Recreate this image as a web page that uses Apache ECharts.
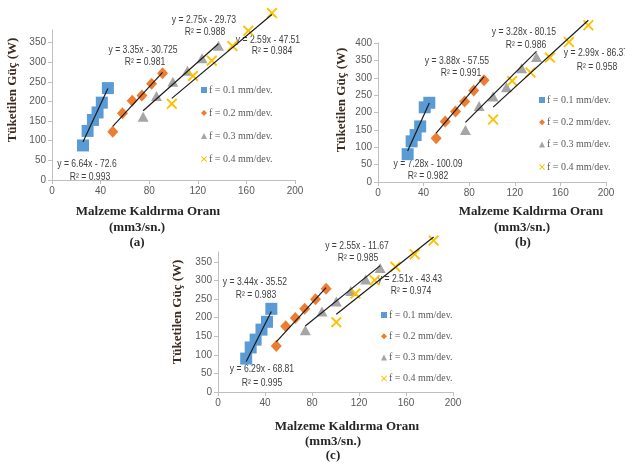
<!DOCTYPE html>
<html><head><meta charset="utf-8">
<script src="https://cdn.jsdelivr.net/npm/echarts@6/dist/echarts.min.js"></script>
<style>html,body{margin:0;padding:0;background:#fff}#c{width:625px;height:467px}</style>
</head><body><div id="c"></div>
<script>
// ---- Data ----
var seriesLabels = ['f = 0.1 mm/dev.', 'f = 0.2 mm/dev.', 'f = 0.3 mm/dev.', 'f = 0.4 mm/dev.'];
var xTicks = [0, 40, 80, 120, 160, 200];

// Panel (a)
var aX1 = [25.5, 29.3, 33.7, 37.5, 41, 46];
var aY1 = [88, 125, 153, 172, 197, 234];
var aX2 = [50, 58, 66, 74, 82, 91];
var aY2 = [123, 170, 202, 215, 245, 272];
var aX3 = [75, 86, 99.5, 111.5, 123.5, 137];
var aY3 = [161, 214, 250, 278, 310, 342];
var aX4 = [98.6, 116, 131.5, 148.5, 161.6, 181];
var aY4 = [194, 265, 304, 341, 380, 425];
var aFits = [[6.64, -72.6], [3.35, -30.725], [2.75, -29.73], [2.59, -47.51]];
var aEq = ['y = 6.64x - 72.6', 'y = 3.35x - 30.725', 'y = 2.75x - 29.73', 'y = 2.59x - 47.51'];
var aR2 = ['R² = 0.993', 'R² = 0.981', 'R² = 0.988', 'R² = 0.984'];

// Panel (b)
var bX1 = [26, 29.5, 33, 37, 41, 45];
var bY1 = [80, 117, 135, 160, 215, 228];
var bX2 = [51, 59, 68, 76, 84, 93];
var bY2 = [126, 174, 203, 232, 263, 293];
var bX3 = [76.7, 88.7, 101, 112.7, 126, 139];
var bY3 = [150, 219, 246, 273, 327, 360];
var bX4 = [101, 117.7, 133.8, 150.8, 167.5, 184.5];
var bY4 = [180, 291, 315, 358, 403, 451];
var bFits = [[7.28, -100.09], [3.88, -57.55], [3.28, -80.15], [2.99, -86.37]];
var bEq = ['y = 7.28x - 100.09', 'y = 3.88x - 57.55', 'y = 3.28x - 80.15', 'y = 2.99x - 86.37'];
var bR2 = ['R² = 0.982', 'R² = 0.991', 'R² = 0.986', 'R² = 0.958'];

// Panel (c)
var cX1 = [24, 27.8, 32, 37, 41.7, 45.4];
var cY1 = [90, 120, 141, 168, 189, 224];
var cX2 = [49.6, 57.6, 65.8, 73.8, 83, 92];
var cY2 = [124, 177, 199, 224, 250, 278];
var cX3 = [74.3, 88.5, 100.7, 113, 125.7, 138];
var cY3 = [166, 217, 244, 272, 303, 334];
var cX4 = [100.7, 117, 133.3, 151, 167.4, 183.5];
var cY4 = [188, 265, 301, 337, 371, 408];
var cFits = [[6.29, -68.81], [3.44, -35.52], [2.55, -11.67], [2.51, -43.43]];
var cEq = ['y = 6.29x - 68.81', 'y = 3.44x - 35.52', 'y = 2.55x - 11.67', 'y = 2.51x - 43.43'];
var cR2 = ['R² = 0.995', 'R² = 0.983', 'R² = 0.985', 'R² = 0.974'];

// ---- Styling ----
var colors = ['#5b9bd5', '#ed7d31', '#a5a5a5', '#ffc000'];
var xPath = 'path://M0,1.2 L1.2,0 L5,3.8 L8.8,0 L10,1.2 L6.2,5 L10,8.8 L8.8,10 L5,6.2 L1.2,10 L0,8.8 L3.8,5 Z';
var symbols = ['rect', 'diamond', 'triangle', xPath];
var symSizes = [[12, 12], [11, 12], [11, 10], [11, 11]];
var serif = 'Liberation Serif';
var sans = '"Liberation Sans", sans-serif';

function zip(xs, ys) { return xs.map(function (x, i) { return [x, ys[i]]; }); }

var panels = [
  { id: 'a', xs: [aX1, aX2, aX3, aX4], ys: [aY1, aY2, aY3, aY4], fits: aFits,
    grid: { left: 52, right: 330, top: 30, bottom: 287 }, ymax: 382, showMax: false },
  { id: 'b', xs: [bX1, bX2, bX3, bX4], ys: [bY1, bY2, bY3, bY4], fits: bFits,
    grid: { left: 378, right: 19, top: 43, bottom: 285 }, ymax: 400, showMax: true },
  { id: 'c', xs: [cX1, cX2, cX3, cX4], ys: [cY1, cY2, cY3, cY4], fits: cFits,
    grid: { left: 218, right: 172, top: 252, bottom: 75 }, ymax: 377, showMax: false }
];

var grids = [], xAxes = [], yAxes = [], series = [], legends = [];
var legendPos = [{ left: 201, top: 85, gap: 13 }, { left: 539, top: 95, gap: 12.3 }, { left: 381, top: 310, gap: 11.2 }];

panels.forEach(function (p, gi) {
  grids.push(Object.assign({ containLabel: false }, p.grid));
  xAxes.push({
    gridIndex: gi, type: 'value', min: 0, max: 200, interval: 40,
    axisLine: { lineStyle: { color: '#bfbfbf' } },
    axisTick: { show: true, length: 4, lineStyle: { color: '#bfbfbf' } },
    splitLine: { show: false },
    axisLabel: { color: '#595959', fontFamily: sans, fontSize: 10, margin: 6 }
  });
  yAxes.push({
    gridIndex: gi, type: 'value', min: 0, max: p.ymax, interval: 50,
    axisLine: { show: true, lineStyle: { color: '#bfbfbf' } },
    axisTick: { show: true, length: 4, lineStyle: { color: '#bfbfbf' } },
    splitLine: { show: false },
    axisLabel: { color: '#595959', fontFamily: sans, fontSize: 10, margin: 6, showMaxLabel: p.showMax }
  });
  var names = [];
  for (var k = 0; k < 4; k++) {
    var nm = seriesLabels[k] + '#' + p.id;
    names.push(nm);
    series.push({
      name: nm, type: 'scatter', xAxisIndex: gi, yAxisIndex: gi,
      symbol: symbols[k], symbolSize: symSizes[k], clip: false,
      itemStyle: { color: colors[k], opacity: 1 },
      data: zip(p.xs[k], p.ys[k]), z: 2
    });
  }
  for (var k2 = 0; k2 < 4; k2++) {
    var xmin = Math.min.apply(null, p.xs[k2]), xmax = Math.max.apply(null, p.xs[k2]);
    var m = p.fits[k2][0], b = p.fits[k2][1];
    series.push({
      name: 'trend' + gi + k2, type: 'line', xAxisIndex: gi, yAxisIndex: gi,
      showSymbol: false, symbol: 'none', clip: false, silent: true,
      lineStyle: { color: '#1a1a1a', width: 1.2 },
      data: [[xmin, m * xmin + b], [xmax, m * xmax + b]], z: 3
    });
  }
  var lp = legendPos[gi];
  legends.push({
    data: names, orient: 'vertical', left: lp.left, top: lp.top, itemGap: lp.gap,
    itemWidth: 6, itemHeight: 6, padding: 0, selectedMode: false,
    formatter: function (n) { return n.split('#')[0]; },
    textStyle: { fontFamily: serif, fontSize: 10, color: '#595959', padding: [0, 0, 0, -3] }
  });
});

function txt(x, y, s, opt) {
  return {
    type: 'text', x: x, y: y, rotation: (opt && opt.rot) || 0,
    scaleX: (opt && opt.sx) || 1,
    style: Object.assign({
      text: s, textAlign: 'center', textVerticalAlign: 'middle',
      fontFamily: sans, fontSize: 10, fill: '#404040'
    }, (opt && opt.style) || {})
  };
}
function eq(x, y, s) { return txt(x, y, s, { sx: 0.86 }); }
var titleStyle = { fontFamily: serif, fontSize: 13, fontWeight: 'bold', fill: '#262626' };
var yTitleStyle = { fontFamily: serif, fontSize: 13, fontWeight: 'bold', fill: '#3d2b1f' };

var graphics = [
  // Panel (a)
  txt(13, 90, 'Tüketilen Güç (W)', { rot: Math.PI / 2, style: yTitleStyle }),
  txt(148, 212, 'Malzeme Kaldırma Oranı', { style: titleStyle }),
  txt(137, 228, '(mm3/sn.)', { style: titleStyle }),
  txt(137, 243, '(a)', { style: titleStyle }),
  eq(87, 164, aEq[0]), eq(90, 177, aR2[0]),
  eq(143, 50, aEq[1]), eq(145, 62, aR2[1]),
  eq(204, 20, aEq[2]), eq(205, 32, aR2[2]),
  eq(268, 40, aEq[3]), eq(272, 51, aR2[3]),
  // Panel (b)
  txt(342, 100, 'Tüketilen Güç (W)', { rot: Math.PI / 2, style: yTitleStyle }),
  txt(531, 212, 'Malzeme Kaldırma Oranı', { style: titleStyle }),
  txt(522, 228, '(mm3/sn.)', { style: titleStyle }),
  txt(523, 243, '(b)', { style: titleStyle }),
  eq(428, 164, bEq[0]), eq(428, 176, bR2[0]),
  eq(457, 61, bEq[1]), eq(461, 73, bR2[1]),
  eq(524, 32, bEq[2]), eq(526, 45, bR2[2]),
  eq(596, 53, bEq[3]), eq(597, 67, bR2[3]),
  // Panel (c)
  txt(178, 312, 'Tüketilen Güç (W)', { rot: Math.PI / 2, style: yTitleStyle }),
  txt(347, 427, 'Malzeme Kaldırma Oranı', { style: titleStyle }),
  txt(333, 442, '(mm3/sn.)', { style: titleStyle }),
  txt(333, 456, '(c)', { style: titleStyle }),
  eq(262, 369, cEq[0]), eq(262, 383, cR2[0]),
  eq(255, 282, cEq[1]), eq(256, 295, cR2[1]),
  eq(357, 246, cEq[2]), eq(358, 258, cR2[2]),
  eq(410, 279, cEq[3]), eq(411, 291, cR2[3])
];

var chart = echarts.init(document.getElementById('c'), null, { renderer: 'canvas' });
chart.setOption({
  animation: false,
  backgroundColor: '#fff',
  grid: grids, xAxis: xAxes, yAxis: yAxes, series: series, legend: legends,
  graphic: graphics
});
</script></body></html>
